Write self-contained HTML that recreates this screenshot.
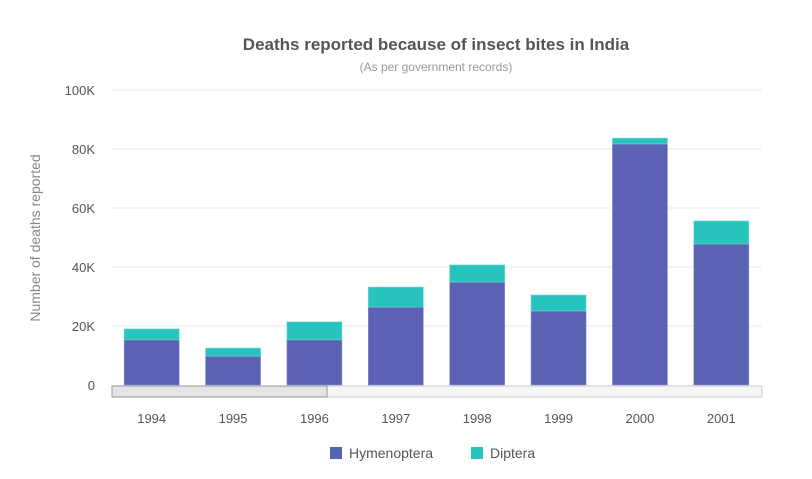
<!DOCTYPE html>
<html><head><meta charset="utf-8"><style>
body{margin:0;background:#fff;font-family:"Liberation Sans",sans-serif}
text{font-family:"Liberation Sans",sans-serif}
</style></head><body>
<svg id="c" width="812" height="474">
<text x="436" y="50" text-anchor="middle" font-size="17" font-weight="bold" fill="#555">Deaths reported because of insect bites in India</text>
<text x="436" y="71" text-anchor="middle" font-size="12" fill="#999">(As per government records)</text>
<text transform="translate(40,238) rotate(-90)" text-anchor="middle" font-size="14" fill="#888">Number of deaths reported</text>
<g id="grid"></g><g id="bars"></g>
<rect x="112" y="386" width="650" height="11" fill="#f6f6f6" stroke="#ccc"/>
<rect x="112" y="386" width="215" height="11" fill="#e4e4e4" stroke="#999"/>
<g id="xl"></g>
<g><rect x="330" y="447" width="12" height="12" fill="#5c62b3"/><text x="349" y="458" font-size="14" fill="#555">Hymenoptera</text></g>
<g><rect x="471" y="447" width="12" height="12" fill="#29c3be"/><text x="490" y="458" font-size="14" fill="#555">Diptera</text></g>
</svg>
<script>
const categories=["1994","1995","1996","1997","1998","1999","2000","2001"];
const hymenoptera=[15300,9800,15300,26400,34900,25100,81700,47800];
const diptera=[3700,2700,6100,6800,5800,5400,2000,7800];
const yTicks=[0,20000,40000,60000,80000,100000];
const yTickLabels=["0","20K","40K","60K","80K","100K"];
const NS="http://www.w3.org/2000/svg";
const x0=111,x1=762,y0=385,y1=90,ymax=100000;
const y=v=>y0-(v/ymax)*(y0-y1);
const band=(x1-x0)/categories.length;
const xc=i=>x0+band*(i+0.5);
function mk(t,a,p){const e=document.createElementNS(NS,t);for(const k in a)e.setAttribute(k,a[k]);document.getElementById(p).appendChild(e);return e;}
yTicks.forEach((t,i)=>{
 if(t>0){const l=mk("line",{x1:x0,x2:x1,y1:y(t),y2:y(t),stroke:"#f0f0f0","stroke-width":1.5},"grid");
 
 }
 const tx=mk("text",{x:95,y:y(t)+5,"text-anchor":"end","font-size":13,fill:"#555"},"grid");tx.textContent=yTickLabels[i];
 
 
});
categories.forEach((c,i)=>{
 const bw=55,bx=xc(i)-bw/2;
 const h=hymenoptera[i],d=diptera[i];
 const r1=mk("rect",{x:bx,y:y(h),width:bw,height:y0-y(h),fill:"#5c62b3",stroke:"#8a8fd0","stroke-width":0.6},"bars");
 
 
 const r2=mk("rect",{x:bx,y:y(h+d),width:bw,height:y(h)-y(h+d),fill:"#29c3be",stroke:"#6dd8d4","stroke-width":0.6},"bars");
 
 
 const t=mk("text",{x:xc(i),y:423,"text-anchor":"middle","font-size":13,fill:"#555"},"xl");t.textContent=c;
 
 
});
</script>
</body></html>
